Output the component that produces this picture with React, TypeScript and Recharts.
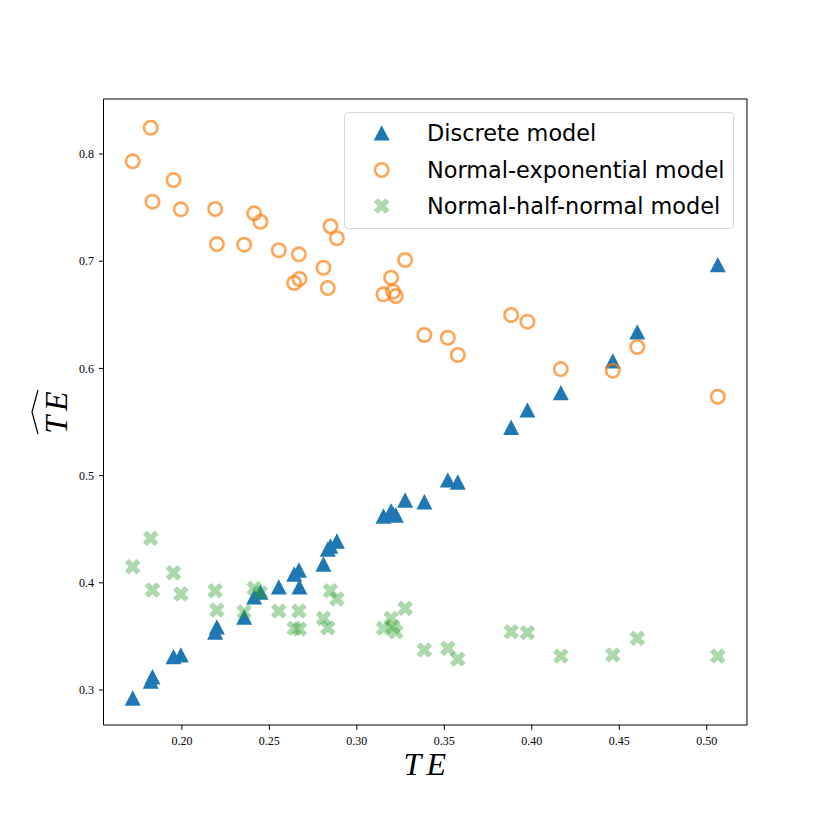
import { ScatterChart, Scatter, XAxis, YAxis, Legend, ReferenceLine } from 'recharts'

// true technical efficiency (x) shared by all three estimators
const TE = [
  0.1719, 0.1822, 0.1832, 0.1952, 0.1994, 0.2190, 0.2200, 0.2356,
  0.2413, 0.2449, 0.2554, 0.2642, 0.2669, 0.2672, 0.2809, 0.2834,
  0.2849, 0.2886, 0.3152, 0.3196, 0.3207, 0.3223, 0.3276, 0.3386,
  0.3520, 0.3577, 0.3882, 0.3975, 0.4166, 0.4463, 0.4603, 0.5063,
]

const DISCRETE = [
  0.2925, 0.3084, 0.3123, 0.3311, 0.3327, 0.3541, 0.3588, 0.3681,
  0.3868, 0.3914, 0.3961, 0.4082, 0.4119, 0.3961, 0.4175, 0.4315,
  0.4343, 0.4390, 0.4623, 0.4670, 0.4642, 0.4632, 0.4772, 0.4756,
  0.4959, 0.4940, 0.5451, 0.5612, 0.5773, 0.6069, 0.6340, 0.6967,
]

const NORMAL_EXP = [
  0.7932, 0.8245, 0.7555, 0.7757, 0.7484, 0.7487, 0.7160, 0.7154,
  0.7447, 0.7368, 0.7102, 0.6797, 0.7064, 0.6834, 0.6939, 0.6750,
  0.7326, 0.7214, 0.6691, 0.6846, 0.6716, 0.6675, 0.7011, 0.6312,
  0.6286, 0.6125, 0.6498, 0.6436, 0.5994, 0.5979, 0.6200, 0.5736,
]

const HALF_NORMAL = [
  0.4150, 0.4415, 0.3933, 0.4094, 0.3896, 0.3926, 0.3746, 0.3730,
  0.3949, 0.3908, 0.3737, 0.3576, 0.3737, 0.3569, 0.3669, 0.3581,
  0.3926, 0.3849, 0.3576, 0.3669, 0.3590, 0.3544, 0.3762, 0.3373,
  0.3389, 0.3289, 0.3544, 0.3535, 0.3317, 0.3327, 0.3482, 0.3317,
]

const X_TICKS = [0.2, 0.25, 0.3, 0.35, 0.4, 0.45, 0.5]
const Y_TICKS = [0.3, 0.4, 0.5, 0.6, 0.7, 0.8]
const X_DOMAIN = [0.1552, 0.523]
const Y_DOMAIN = [0.2674, 0.8513]

const toPoints = (ys: number[]) => TE.map((x, i) => ({ x, y: ys[i] }))

const BLUE = '#1f77b4'
const ORANGE = '#ff7f0e'
const GREEN = '#2ca02c'
const SERIF = '"Liberation Serif", "DejaVu Serif", serif'

// marker shapes drawn around the point the scales give us
const triangle = (cx: number, cy: number) => (
  <path d={`M${cx},${cy - 7.8}L${cx + 8},${cy + 7.6}L${cx - 8},${cy + 7.6}Z`} fill={BLUE} />
)
const ring = (cx: number, cy: number) => (
  <circle cx={cx} cy={cy} r={6.7} fill="none" stroke={ORANGE} strokeOpacity={0.7} strokeWidth={2.6} />
)
const X_PATH = [
  [-0.25, -0.5], [0, -0.25], [0.25, -0.5], [0.5, -0.25],
  [0.25, 0], [0.5, 0.25], [0.25, 0.5], [0, 0.25],
  [-0.25, 0.5], [-0.5, 0.25], [-0.25, 0], [-0.5, -0.25],
]
const cross = (cx: number, cy: number) => (
  <path
    d={'M' + X_PATH.map(([a, b]) => `${cx + a * 15.6},${cy + b * 15.6}`).join('L') + 'Z'}
    fill={GREEN}
    fillOpacity={0.4}
  />
)

const MARKERS: Record<string, (cx: number, cy: number) => JSX.Element> = {
  'Discrete model': triangle,
  'Normal-exponential model': ring,
  'Normal-half-normal model': cross,
}

function LegendBox({ payload }: any) {
  return (
    <div
      style={{
        position: 'relative', width: 390, height: 117, boxSizing: 'border-box',
        border: '1px solid #d9d9d9', borderRadius: 4, background: 'rgba(255,255,255,0.8)',
        fontFamily: '"DejaVu Sans", sans-serif', fontSize: 22.4, color: '#000',
      }}
    >
      {(payload ?? []).map((entry: any, i: number) => {
        const mid = 20 + i * 36.7
        return (
          <div key={entry.value}>
            <svg width={80} height={30} style={{ position: 'absolute', left: 0, top: mid - 15 }}>
              {MARKERS[entry.value]?.(36.7, 15)}
            </svg>
            <span
              style={{
                position: 'absolute', left: 82, top: mid - 15, height: 30,
                lineHeight: '30px', whiteSpace: 'nowrap',
              }}
            >
              {entry.value}
            </span>
          </div>
        )
      })}
    </div>
  )
}

function XTitle({ viewBox }: any) {
  const cx = viewBox.x + viewBox.width / 2
  return (
    <text x={cx + 2} y={775} textAnchor="middle" fontFamily={SERIF} fontStyle="italic"
      fontSize={32} letterSpacing={5} fill="#000">
      TE
    </text>
  )
}

function YTitle({ viewBox }: any) {
  const cy = viewBox.y + viewBox.height / 2
  return (
    <g transform={`translate(66.7,${cy}) rotate(-90)`}>
      <text x={2} y={0} textAnchor="middle" fontFamily={SERIF} fontStyle="italic"
        fontSize={32} letterSpacing={5} fill="#000">
        TE
      </text>
      <path d="M-22,-28.7 L0,-34.7 L22,-28.7" fill="none" stroke="#000" strokeWidth={1.2} />
    </g>
  )
}

export default function App() {
  const tickStyle = { fontFamily: SERIF, fontSize: 12, fill: '#000' }
  return (
    <div style={{ position: 'absolute', left: 0, top: 0, width: 830, height: 830, background: '#fff' }}>
      <ScatterChart width={830} height={830} margin={{ top: 99, right: 83, bottom: 45, left: 43.5 }}>
        <XAxis
          type="number" dataKey="x" domain={X_DOMAIN} ticks={X_TICKS} allowDataOverflow
          tickFormatter={(v: number) => v.toFixed(2)} tick={tickStyle}
          tickSize={5} tickMargin={6} height={60}
          axisLine={{ stroke: '#000', strokeWidth: 1 }} tickLine={{ stroke: '#000' }}
          label={<XTitle />}
        />
        <YAxis
          type="number" dataKey="y" domain={Y_DOMAIN} ticks={Y_TICKS} allowDataOverflow
          tickFormatter={(v: number) => v.toFixed(1)} tick={tickStyle}
          tickSize={4.5} tickMargin={5} width={60}
          axisLine={{ stroke: '#000', strokeWidth: 1 }} tickLine={{ stroke: '#000' }}
          label={<YTitle />}
        />
        {/* top and right spines of the frame */}
        <ReferenceLine y={Y_DOMAIN[1]} stroke="#000" strokeWidth={1} ifOverflow="extendDomain" />
        <ReferenceLine x={X_DOMAIN[1]} stroke="#000" strokeWidth={1} ifOverflow="extendDomain" />
        <Legend
          layout="horizontal" verticalAlign="middle" align="center"
          content={<LegendBox />}
          wrapperStyle={{ position: 'absolute', left: 344, top: 112, width: 390, height: 117 }}
        />
        <Scatter name="Discrete model" data={toPoints(DISCRETE)} fill={BLUE} isAnimationActive={false}
          shape={(p: any) => triangle(p.cx, p.cy)} />
        <Scatter name="Normal-exponential model" data={toPoints(NORMAL_EXP)} fill={ORANGE} isAnimationActive={false}
          shape={(p: any) => ring(p.cx, p.cy)} />
        <Scatter name="Normal-half-normal model" data={toPoints(HALF_NORMAL)} fill={GREEN} isAnimationActive={false}
          shape={(p: any) => cross(p.cx, p.cy)} />
      </ScatterChart>
    </div>
  )
}
